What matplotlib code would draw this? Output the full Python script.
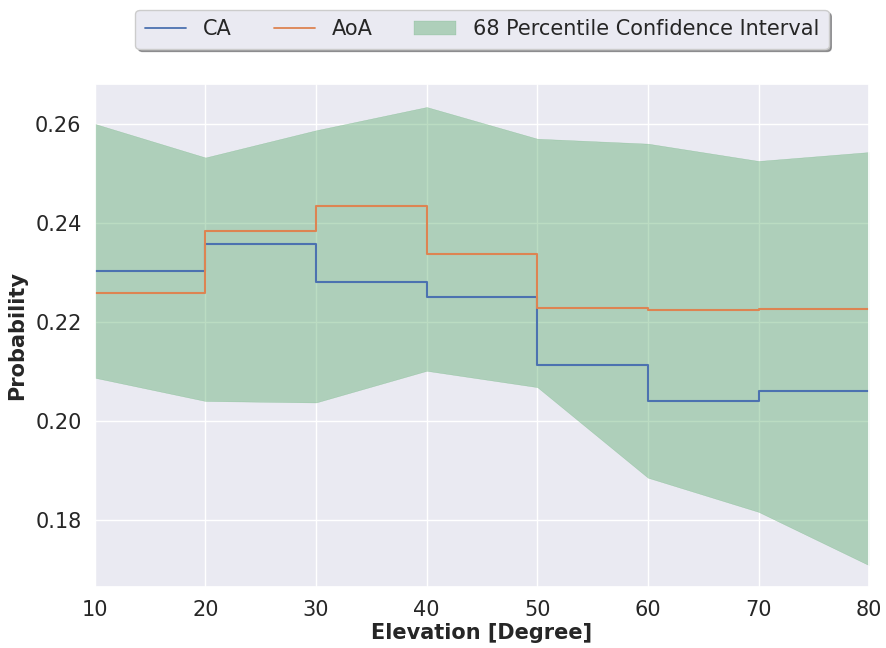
import matplotlib
matplotlib.use("Agg")
import matplotlib.pyplot as plt
import seaborn as sns

sns.set_theme(style="darkgrid")
plt.rcParams['font.family'] = ['DejaVu Sans']

elevation = [10, 20, 30, 40, 50, 60, 70, 80]
ca = [0.2303, 0.2359, 0.2282, 0.2251, 0.2113, 0.2040, 0.2062, 0.2062]
aoa = [0.2259, 0.2385, 0.2434, 0.2339, 0.2228, 0.2224, 0.2226, 0.2226]
ci_upper = [0.2601, 0.2533, 0.2588, 0.2635, 0.2571, 0.2561, 0.2526, 0.2544]
ci_lower = [0.2088, 0.2041, 0.2038, 0.2102, 0.2069, 0.1886, 0.1817, 0.1709]
xticks = [10, 20, 30, 40, 50, 60, 70, 80]
yticks = [0.18, 0.20, 0.22, 0.24, 0.26]

palette = sns.color_palette("deep")

fig = plt.figure(figsize=(8.86, 6.48), dpi=100)
ax = fig.add_axes([0.107, 0.094, 0.874, 0.776])

ax.step(elevation, ca, where="post", color=palette[0], lw=1.5, label="CA")
ax.step(elevation, aoa, where="post", color=palette[1], lw=1.5, label="AoA")
ax.fill_between(elevation, ci_lower, ci_upper, color=palette[2], alpha=0.4,
                lw=0.3, label="68 Percentile Confidence Interval")

ax.set_xlim(10, 80)
ax.set_ylim(0.1665, 0.2681)
ax.set_xticks(xticks)
ax.set_yticks(yticks)
ax.set_yticklabels([f"{v:.2f}" for v in yticks])
ax.tick_params(labelsize=15)
ax.set_xlabel("Elevation [Degree]", fontsize=15, fontweight="bold", labelpad=2)
ax.set_ylabel("Probability", fontsize=15, fontweight="bold", labelpad=6)

leg = ax.legend(loc="lower center", bbox_to_anchor=(0.5, 1.05), ncol=3,
                fontsize=15, frameon=True, shadow=True, fancybox=True,
                borderpad=0.45, columnspacing=2.0)
for h in leg.get_lines():
    h.set_linewidth(1.3)

fig.savefig("out.png", dpi=100)
